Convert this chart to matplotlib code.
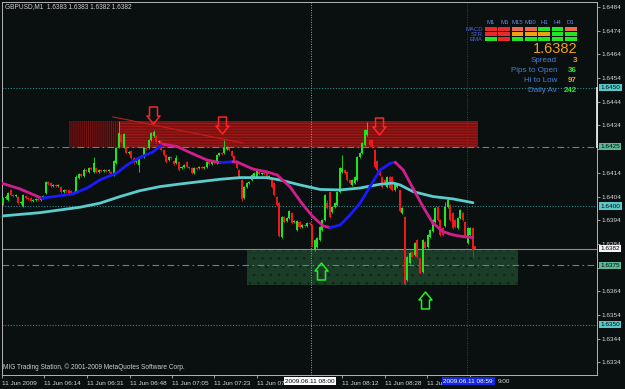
import matplotlib
matplotlib.use('Agg')
import matplotlib.pyplot as plt
import numpy as np
from matplotlib.path import Path
from matplotlib.patches import Rectangle
from matplotlib.collections import LineCollection
import matplotlib.transforms as mtrans

plt.rcParams['font.family'] = ['Liberation Sans', 'DejaVu Sans']
plt.rcParams['hatch.linewidth'] = 0.6

# ---------------- data ----------------
symbol = "GBPUSD,M1"

opens = [
1.64013, 1.64034, 1.64026, 1.64068, 1.64047, 1.64043, 1.64038, 1.64013, 1.64000, 1.64043,
1.64034, 1.64034, 1.64022, 1.64026, 1.64030, 1.64026, 1.64034, 1.64055, 1.64101, 1.64097,
1.64085, 1.64089, 1.64085, 1.64081, 1.64059, 1.64068, 1.64068, 1.64064, 1.64055, 1.64060,
1.64118, 1.64135, 1.64127, 1.64152, 1.64144, 1.64161, 1.64144, 1.64161, 1.64144, 1.64152,
1.64148, 1.64152, 1.64148, 1.64144, 1.64131, 1.64182, 1.64250, 1.64300, 1.64250, 1.64250,
1.64224, 1.64232, 1.64203, 1.64186, 1.64173, 1.64207, 1.64207, 1.64245, 1.64245, 1.64279,
1.64295, 1.64295, 1.64270, 1.64275, 1.64237, 1.64216, 1.64194, 1.64207, 1.64190, 1.64182,
1.64186, 1.64161, 1.64165, 1.64186, 1.64165, 1.64161, 1.64140, 1.64161, 1.64161, 1.64165,
1.64161, 1.64165, 1.64186, 1.64177, 1.64186, 1.64182, 1.64216, 1.64224, 1.64224, 1.64241,
1.64245, 1.64232, 1.64211, 1.64186, 1.64152, 1.64110, 1.64034, 1.64081, 1.64097, 1.64110,
1.64123, 1.64123, 1.64144, 1.64135, 1.64140, 1.64144, 1.64123, 1.64110, 1.64097, 1.64038,
1.64013, 1.63869, 1.63954, 1.63937, 1.63950, 1.63971, 1.63933, 1.63899, 1.63933, 1.63912,
1.63920, 1.63916, 1.63929, 1.63920, 1.63815, 1.63827, 1.63857, 1.63899, 1.63941, 1.64013,
1.64059, 1.63975, 1.63996, 1.64005, 1.64060, 1.64144, 1.64152, 1.64144, 1.64110, 1.64089,
1.64097, 1.64110, 1.64207, 1.64224, 1.64258, 1.64300, 1.64279, 1.64279, 1.64237, 1.64190,
1.64156, 1.64123, 1.64110, 1.64081, 1.64123, 1.64123, 1.64068, 1.64081, 1.64068, 1.63971,
1.63954, 1.63688, 1.63760, 1.63806, 1.63794, 1.63857, 1.63781, 1.63722, 1.63848, 1.63827,
1.63869, 1.63895, 1.63933, 1.63996, 1.63941, 1.63908, 1.63916, 1.63996, 1.64005, 1.63971,
1.63941, 1.63908, 1.63950, 1.63971, 1.63933, 1.63844, 1.63878, 1.63908, 1.63830,
]
highs = [
1.64038, 1.64045, 1.64060, 1.64072, 1.64051, 1.64051, 1.64043, 1.64022, 1.64051, 1.64047,
1.64038, 1.64038, 1.64030, 1.64034, 1.64034, 1.64038, 1.64047, 1.64106, 1.64106, 1.64101,
1.64093, 1.64093, 1.64093, 1.64085, 1.64072, 1.64072, 1.64072, 1.64068, 1.64064, 1.64131,
1.64140, 1.64140, 1.64161, 1.64156, 1.64165, 1.64165, 1.64207, 1.64165, 1.64156, 1.64156,
1.64156, 1.64156, 1.64156, 1.64148, 1.64194, 1.64250, 1.64359, 1.64304, 1.64308, 1.64254,
1.64232, 1.64237, 1.64207, 1.64194, 1.64211, 1.64216, 1.64250, 1.64250, 1.64283, 1.64312,
1.64321, 1.64299, 1.64279, 1.64279, 1.64241, 1.64220, 1.64211, 1.64211, 1.64194, 1.64216,
1.64190, 1.64169, 1.64177, 1.64190, 1.64169, 1.64165, 1.64165, 1.64165, 1.64169, 1.64169,
1.64169, 1.64190, 1.64190, 1.64190, 1.64190, 1.64220, 1.64228, 1.64228, 1.64279, 1.64254,
1.64250, 1.64237, 1.64216, 1.64190, 1.64156, 1.64114, 1.64085, 1.64101, 1.64106, 1.64135,
1.64144, 1.64156, 1.64148, 1.64144, 1.64144, 1.64148, 1.64131, 1.64114, 1.64101, 1.64043,
1.64017, 1.63958, 1.63958, 1.63954, 1.63983, 1.63975, 1.63941, 1.63941, 1.63937, 1.63924,
1.63924, 1.63933, 1.63933, 1.63924, 1.63861, 1.63869, 1.63916, 1.63946, 1.64051, 1.64026,
1.64064, 1.64000, 1.64017, 1.64064, 1.64165, 1.64216, 1.64156, 1.64148, 1.64114, 1.64114,
1.64127, 1.64211, 1.64228, 1.64270, 1.64325, 1.64355, 1.64283, 1.64283, 1.64241, 1.64194,
1.64161, 1.64127, 1.64114, 1.64127, 1.64127, 1.64127, 1.64101, 1.64093, 1.64072, 1.63996,
1.63958, 1.63789, 1.63806, 1.63811, 1.63848, 1.63861, 1.63785, 1.63861, 1.63852, 1.63882,
1.63903, 1.63946, 1.63996, 1.64000, 1.63946, 1.63912, 1.64017, 1.64038, 1.64009, 1.63975,
1.63946, 1.63954, 1.63988, 1.63975, 1.63937, 1.63912, 1.63912, 1.63912, 1.63830,
]
lows = [
1.64005, 1.64028, 1.64022, 1.64043, 1.64038, 1.64038, 1.64009, 1.64009, 1.63996, 1.64030,
1.64026, 1.64017, 1.64017, 1.64022, 1.64022, 1.64022, 1.64030, 1.64051, 1.64089, 1.64081,
1.64081, 1.64081, 1.64081, 1.64055, 1.64055, 1.64060, 1.64051, 1.64051, 1.64051, 1.64055,
1.64114, 1.64123, 1.64123, 1.64144, 1.64140, 1.64152, 1.64140, 1.64140, 1.64140, 1.64144,
1.64144, 1.64144, 1.64144, 1.64127, 1.64127, 1.64177, 1.64245, 1.64266, 1.64245, 1.64220,
1.64220, 1.64199, 1.64177, 1.64182, 1.64144, 1.64203, 1.64203, 1.64237, 1.64241, 1.64275,
1.64291, 1.64266, 1.64266, 1.64232, 1.64211, 1.64182, 1.64190, 1.64199, 1.64173, 1.64177,
1.64148, 1.64156, 1.64161, 1.64161, 1.64156, 1.64135, 1.64135, 1.64152, 1.64156, 1.64156,
1.64156, 1.64161, 1.64173, 1.64173, 1.64177, 1.64177, 1.64211, 1.64216, 1.64220, 1.64237,
1.64232, 1.64207, 1.64182, 1.64156, 1.64118, 1.64022, 1.64030, 1.64076, 1.64093, 1.64106,
1.64118, 1.64118, 1.64131, 1.64131, 1.64131, 1.64118, 1.64118, 1.64076, 1.64043, 1.64000,
1.63869, 1.63865, 1.63929, 1.63933, 1.63946, 1.63924, 1.63929, 1.63895, 1.63908, 1.63908,
1.63912, 1.63912, 1.63920, 1.63827, 1.63811, 1.63822, 1.63852, 1.63895, 1.63937, 1.63988,
1.63950, 1.63971, 1.63992, 1.64000, 1.64055, 1.64140, 1.64135, 1.64106, 1.64093, 1.64085,
1.64093, 1.64106, 1.64203, 1.64220, 1.64254, 1.64295, 1.64254, 1.64245, 1.64161, 1.64148,
1.64127, 1.64076, 1.64085, 1.64076, 1.64072, 1.64064, 1.64064, 1.64076, 1.63975, 1.63967,
1.63667, 1.63684, 1.63756, 1.63781, 1.63790, 1.63781, 1.63713, 1.63718, 1.63819, 1.63823,
1.63865, 1.63891, 1.63929, 1.63937, 1.63873, 1.63873, 1.63912, 1.63992, 1.63937, 1.63903,
1.63908, 1.63903, 1.63946, 1.63937, 1.63865, 1.63840, 1.63873, 1.63785, 1.63820,
]
closes = [
1.64034, 1.64040, 1.64055, 1.64047, 1.64043, 1.64047, 1.64013, 1.64017, 1.64047, 1.64034,
1.64030, 1.64022, 1.64026, 1.64030, 1.64026, 1.64034, 1.64043, 1.64101, 1.64093, 1.64085,
1.64089, 1.64085, 1.64089, 1.64059, 1.64068, 1.64064, 1.64055, 1.64055, 1.64060, 1.64123,
1.64135, 1.64127, 1.64152, 1.64148, 1.64161, 1.64156, 1.64182, 1.64144, 1.64152, 1.64148,
1.64152, 1.64148, 1.64152, 1.64131, 1.64190, 1.64245, 1.64310, 1.64270, 1.64304, 1.64224,
1.64228, 1.64203, 1.64186, 1.64190, 1.64207, 1.64211, 1.64245, 1.64241, 1.64279, 1.64308,
1.64312, 1.64270, 1.64275, 1.64237, 1.64216, 1.64186, 1.64207, 1.64203, 1.64177, 1.64203,
1.64152, 1.64165, 1.64173, 1.64165, 1.64161, 1.64140, 1.64161, 1.64156, 1.64165, 1.64161,
1.64165, 1.64186, 1.64177, 1.64186, 1.64182, 1.64216, 1.64224, 1.64220, 1.64245, 1.64250,
1.64237, 1.64211, 1.64186, 1.64161, 1.64123, 1.64029, 1.64081, 1.64097, 1.64101, 1.64131,
1.64140, 1.64152, 1.64135, 1.64140, 1.64135, 1.64123, 1.64127, 1.64081, 1.64047, 1.64005,
1.63873, 1.63954, 1.63933, 1.63950, 1.63979, 1.63929, 1.63937, 1.63937, 1.63912, 1.63920,
1.63916, 1.63929, 1.63924, 1.63836, 1.63857, 1.63865, 1.63912, 1.63941, 1.64047, 1.63992,
1.63954, 1.63996, 1.64013, 1.64060, 1.64161, 1.64161, 1.64140, 1.64110, 1.64097, 1.64110,
1.64123, 1.64207, 1.64224, 1.64266, 1.64321, 1.64321, 1.64258, 1.64250, 1.64165, 1.64152,
1.64131, 1.64081, 1.64089, 1.64123, 1.64076, 1.64068, 1.64097, 1.64089, 1.63979, 1.63992,
1.63671, 1.63785, 1.63802, 1.63785, 1.63844, 1.63785, 1.63718, 1.63857, 1.63823, 1.63878,
1.63899, 1.63941, 1.63992, 1.63941, 1.63878, 1.63878, 1.63996, 1.64026, 1.63941, 1.63908,
1.63912, 1.63950, 1.63983, 1.63941, 1.63869, 1.63908, 1.63908, 1.63815, 1.63820,
]

# slow moving average (cyan), sampled from the chart
slow_ma_x = [0.0, 15.1, 31.1, 39.0, 47.0, 55.0, 62.9, 70.9, 78.9, 86.9, 94.8, 105.2,
             110.8, 118.7, 126.7, 134.7, 142.6, 150.6, 155.8, 158.6, 163.7, 171.7, 179.7, 187.6]
slow_ma_y = [1.63958, 1.63972, 1.63995, 1.64012, 1.64040, 1.64065, 1.64082, 1.64093,
             1.64103, 1.64113, 1.64120, 1.64120, 1.64110, 1.64089, 1.64070, 1.64068,
             1.64076, 1.64092, 1.64097, 1.64089, 1.64061, 1.64040, 1.64030, 1.64014]

# fast moving average (blue rising / magenta falling)
fast_ma_x = [0.0, 7.2, 15.8, 28.3, 33.9, 39.0, 45.8, 49.8, 53.8, 60.2, 64.1, 69.7, 76.1,
             81.7, 86.9, 92.0, 93.6, 100.0, 105.6, 109.6, 114.7, 119.9, 123.9, 127.9,
             130.7, 134.7, 138.6, 142.6, 146.6, 150.6, 154.6, 156.6, 159.8, 163.7, 167.7,
             171.7, 175.7, 179.7, 183.7, 187.6]
fast_ma_y = [1.64096, 1.64072, 1.64033, 1.64051, 1.64076, 1.64110, 1.64140, 1.64173,
             1.64199, 1.64229, 1.64261, 1.64251, 1.64220, 1.64194, 1.64183, 1.64187,
             1.64186, 1.64156, 1.64144, 1.64131, 1.64081, 1.64005, 1.63954, 1.63916,
             1.63909, 1.63920, 1.63962, 1.64012, 1.64082, 1.64152, 1.64180, 1.64185,
             1.64152, 1.64075, 1.63997, 1.63927, 1.63892, 1.63878, 1.63871, 1.63867]

dotted_levels = [1.6450, 1.6400, 1.6350]
dashdot_levels = [1.6425, 1.6375]
bid_level = 1.6382

resist_zone = [26.7, 189.6, 1.64245, 1.64359]      # x0, x1, y0, y1
resist_zone_core = [47.0, 189.6, 1.64245, 1.64359]
support_zone = [97.6, 205.6, 1.63667, 1.63819]
trend_x = [44.2, 96.0]
trend_y = [1.64376, 1.64266]
down_arrow_x = [60.2, 87.6, 150.2]
down_arrow_y = [1.64386, 1.64344, 1.64336]
up_arrow_x = [127.1, 168.5]
up_arrow_y = [1.63726, 1.63602]
vline_open = 123.0
vline_cursor = 185.4
range_marker = [1.64496, 1.64251]

price_ticks = [1.6334, 1.6344, 1.6354, 1.6364, 1.6374, 1.6384, 1.6394, 1.6404,
               1.6414, 1.6424, 1.6434, 1.6444, 1.6454, 1.6464, 1.6474, 1.6484]
hidden_price_labels = [1.6374, 1.6424]   # covered by level boxes in the chart
time_ticks = [0.0, 16.8, 33.9, 51.0, 67.7, 84.5, 101.6, 135.5, 152.6, 169.3, 186.5]
time_labels = ["11 Jun 2009", "11 Jun 06:14", "11 Jun 06:31", "11 Jun 06:48",
               "11 Jun 07:05", "11 Jun 07:23", "11 Jun 07", "11 Jun 08:12",
               "11 Jun 08:28", "11 Ju", ""]
tail_label = "9:00"
tail_label_x = 197.4
open_label = "2009.06.11 08:00"
cursor_label = "2009.06.11 08:59"

timeframes = ['M1', 'M5', 'M15', 'M30', 'H1', 'H4', 'D1']
signal_rows = ['MACD', 'STR', 'EMA']
signals = [['r', 'r', 's', 's', 'g', 'g', 's'],
           ['r', 'r', 'o', 'o', 'o', 'g', 'g'],
           ['g', 'r', 'g', 'g', 'g', 'g', 'g']]
stat_labels = ['Spread', 'Pips to Open', 'Hi to Low', 'Daily Av']
stat_values = ['3', '36', '97', '242']
stat_kind = ['o', 'g', 'o', 'g']

# ---------------- styles ----------------
BG = '#0a0f0f'
UP = '#1ee61e'
DN = '#f01818'
SIG = {'r': '#e82a2a', 's': '#f06a52', 'o': '#f0a010', 'g': '#22e622'}
VAL = {'o': '#f0a020', 'g': '#22ee22'}

fig = plt.figure(figsize=(6.25, 3.89), dpi=100, facecolor=BG)
ax = fig.add_axes([2/625, 14/389, 595/625, 373/389])
ax.set_facecolor(BG)
ax.set_xlim(0, 237.0)
ax.set_ylim(1.63287, 1.64861)

# zones
ax.add_patch(Rectangle((resist_zone[0], resist_zone[2]), resist_zone[1]-resist_zone[0],
                       resist_zone[3]-resist_zone[2], facecolor='#3e0b0b',
                       edgecolor='#7a1414', hatch='||||||||', linewidth=0, zorder=1))
ax.add_patch(Rectangle((resist_zone_core[0], resist_zone_core[2]),
                       resist_zone_core[1]-resist_zone_core[0],
                       resist_zone_core[3]-resist_zone_core[2], facecolor='#7a1111',
                       edgecolor='#a81a1a', hatch='------', linewidth=0, zorder=1.1))
ax.add_patch(Rectangle((support_zone[0], support_zone[2]), support_zone[1]-support_zone[0],
                       support_zone[3]-support_zone[2], facecolor='#1b3c27',
                       edgecolor='#10261a', hatch='..', linewidth=0, zorder=1))

# horizontal levels
for lv in dotted_levels:
    ax.axhline(lv, color='#2a8c8c', lw=0.8, ls=(0, (1, 1.5)), zorder=2)
for lv in dashdot_levels:
    ax.axhline(lv, color='#3a9c7c', lw=0.8, ls=(0, (6, 3, 1.5, 3)), zorder=2)
ax.axhline(bid_level, color='#8c8c9c', lw=0.8, zorder=2)

# vertical lines
ax.axvline(vline_open, color='#9a9ab8', lw=0.7, ls=(0, (1, 1.5)), zorder=2)
ax.axvline(vline_cursor, color='#3030c8', lw=0.7, ls=(0, (1, 1.5)), zorder=2)

# trend line
ax.plot(trend_x, trend_y, color='#c81c1c', lw=0.8, zorder=3)

# candles
o = np.array(opens); h = np.array(highs); l = np.array(lows); c = np.array(closes)
n = min(len(o), len(h), len(l), len(c))
o, h, l, c = o[:n], h[:n], l[:n], c[:n]
x = np.arange(n) + 0.5
cols = [UP if c[i] >= o[i] else DN for i in range(n)]
ax.vlines(x, l, h, colors=cols, lw=0.6, zorder=4)
body_bottom = np.minimum(o, c)
body_h = np.maximum(np.abs(c - o), 0.00004)
ax.bar(x, body_h, bottom=body_bottom, width=0.8, color=cols, linewidth=0, zorder=4)

# moving averages
ax.plot(slow_ma_x, slow_ma_y, color='#5ccccc', lw=2.0, zorder=5, solid_capstyle='round')
pts = np.column_stack([fast_ma_x, fast_ma_y])
segs = [pts[i:i+2] for i in range(len(pts)-1)]
seg_cols = ['#1a1aff' if fast_ma_y[i+1] > fast_ma_y[i] else '#d01e8c' for i in range(len(pts)-1)]
ax.add_collection(LineCollection(segs, colors=seg_cols, linewidths=2.0, zorder=5,
                                 capstyle='round'))

# arrows
def arrow_path(direction):
    verts = [(-4, 8.5), (4, 8.5), (4, -0.5), (6.5, -0.5), (0, -8.5), (-6.5, -0.5),
             (-4, -0.5), (-4, 8.5)]
    if direction == 'up':
        verts = [(vx, -vy) for vx, vy in verts]
    codes = [Path.MOVETO] + [Path.LINETO] * 6 + [Path.CLOSEPOLY]
    return Path(verts, codes)

ax.plot(down_arrow_x, down_arrow_y, ls='none', marker=arrow_path('down'), markersize=12.2,
        markerfacecolor='none', markeredgecolor='#ff2424', markeredgewidth=1.1, zorder=8)
ax.plot(up_arrow_x, up_arrow_y, ls='none', marker=arrow_path('up'), markersize=12.2,
        markerfacecolor='none', markeredgecolor='#22f022', markeredgewidth=1.1, zorder=8)

# frame / axes
for sp in ax.spines.values():
    sp.set_color('#b4b4b4')
    sp.set_linewidth(0.7)
trans_r = mtrans.blended_transform_factory(ax.transAxes, ax.transData)
ax.plot([1.0, 1.0], range_marker, transform=trans_r, color='#e8e8e8', lw=1.3,
        clip_on=False, zorder=9)

ax.yaxis.set_ticks_position('right')
ax.set_yticks(price_ticks)
ax.set_yticklabels(['' if p in hidden_price_labels else f'{p:.4f}' for p in price_ticks])
ax.tick_params(axis='y', colors='#d8d8d8', labelsize=4.6, length=2, width=0.5, pad=1.5,
               direction='out')
ax.set_xticks(time_ticks)
ax.set_xticklabels(time_labels, ha='left')
ax.tick_params(axis='x', colors='#d8d8d8', labelsize=4.6, length=2.5, width=0.5, pad=2,
               direction='out')

# price boxes
box_specs = ([(lv, '#58c8c8') for lv in dotted_levels] +
             [(lv, '#5ab896') for lv in dashdot_levels] + [(bid_level, '#f4f4f4')])
for lv, fc in box_specs:
    ax.text(1.0 + 3.5/595, lv, f'{lv:.4f}', transform=trans_r, ha='left', va='center',
            fontsize=4.6, color='#0a0a0a', clip_on=False, zorder=20,
            bbox=dict(boxstyle='square,pad=0.18', fc=fc, ec='none'))

# time boxes
trans_b = mtrans.blended_transform_factory(ax.transData, ax.transAxes)
ax.text(vline_open - 0.3, -0.017, open_label, transform=trans_b, ha='center', va='center',
        fontsize=4.6, color='#000000', clip_on=False, zorder=20,
        bbox=dict(boxstyle='square,pad=0.25', fc='#ffffff', ec='none'))
ax.text(vline_cursor + 0.3, -0.017, cursor_label, transform=trans_b, ha='center',
        va='center', fontsize=4.6, color='#ffffff', clip_on=False, zorder=20,
        bbox=dict(boxstyle='square,pad=0.25', fc='#1428e0', ec='none'))
ax.text(tail_label_x, -0.017, tail_label, transform=trans_b, ha='left', va='center',
        fontsize=4.6, color='#d8d8d8', clip_on=False, zorder=19)

# overlay in pixel coordinates for texts and indicator panel
ov = fig.add_axes([0, 0, 1, 1], zorder=10)
ov.set_xlim(0, 625)
ov.set_ylim(389, 0)
ov.axis('off')
ov.patch.set_visible(False)

ov.text(5, 7, f"{symbol}  {opens[-1]:.4f} {highs[-1]:.4f} {lows[-1]:.4f} {closes[-1]:.4f}",
        fontsize=4.7, color='#d0d0d0', ha='left', va='center')
ov.text(3, 367, "MIG Trading Station, \u00a9 2001-2009 MetaQuotes Software Corp.",
        fontsize=4.7, color='#d0d0d0', ha='left', va='center')

col_x0 = 485.0
col_pitch = 13.33
row_y0 = 27.3
row_pitch = 5.0
for j, tf in enumerate(timeframes):
    ov.text(col_x0 + j*col_pitch + 5.8, 22, tf, fontsize=4.3, color='#6a8ce8',
            ha='center', va='center')
for r, name in enumerate(signal_rows):
    ov.text(483, row_y0 + r*row_pitch + 1.7, name, fontsize=4.3, color='#4a6ad8',
            ha='right', va='center')
    for j, s in enumerate(signals[r]):
        ov.add_patch(Rectangle((col_x0 + j*col_pitch, row_y0 + r*row_pitch), 11.7, 3.5,
                               facecolor=SIG[s], edgecolor='none'))

ov.text(577, 49, f'{closes[-1]:.4f}', fontsize=10.5, color='#f0a020', ha='right',
        va='center')
for k, (lab, val, kind) in enumerate(zip(stat_labels, stat_values, stat_kind)):
    yy = 60.7 + k*9.8
    ov.text(557, yy, lab, fontsize=5.8, color='#4a7ed8', ha='right', va='center')
    ov.text(577, yy, val, fontsize=5.8, color=VAL[kind], ha='right', va='center',
            fontweight='bold')

fig.savefig('out.png', dpi=100, facecolor=BG)
